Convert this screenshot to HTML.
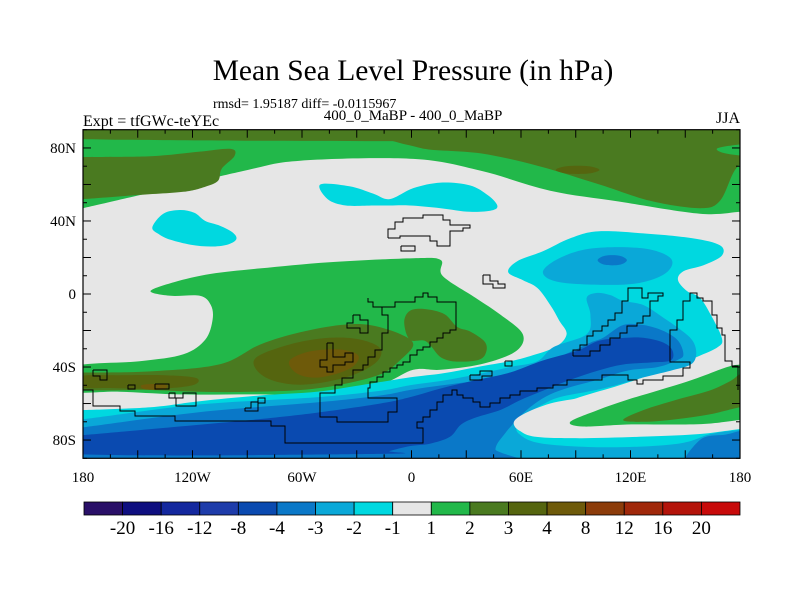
<!DOCTYPE html>
<html><head><meta charset="utf-8"><style>
html,body{margin:0;padding:0;background:#fff;}
svg{display:block;font-family:"Liberation Serif",serif;}
</style></head><body>
<svg id="chart" width="800" height="600" viewBox="0 0 800 600" xmlns="http://www.w3.org/2000/svg">
<defs><clipPath id="plotclip"><rect x="83" y="129.7" width="657" height="328.6"/></clipPath></defs>
<text x="413" y="80" font-size="29.5" text-anchor="middle">Mean Sea Level Pressure (in hPa)</text>
<text x="213" y="108" font-size="14">rmsd= 1.95187 diff= -0.0115967</text>
<text x="413" y="120" font-size="15" text-anchor="middle">400_0_MaBP - 400_0_MaBP</text>
<text x="83" y="126" font-size="16">Expt = tfGWc-teYEc</text>
<text x="740" y="123" font-size="16" text-anchor="end">JJA</text>
<g id="fields" clip-path="url(#plotclip)"></g>
<g id="coast" clip-path="url(#plotclip)" fill="none" stroke="#000" stroke-width="1"></g>
<rect x="83" y="129.7" width="657" height="328.6" fill="none" stroke="#000" stroke-width="1.2"/>
<g id="axes"></g>
<g id="colorbar"></g>
</svg>
<script>
// ---- colour levels ----
const levelLabels = ["-20","-16","-12","-8","-4","-3","-2","-1","1","2","3","4","8","12","16","20"];
const levelColors = ["#2a1068","#0f0f80","#14289e","#1e3caa","#0a4ab0","#0a78c8","#0aa8d8","#00d8e0","#e6e6e6","#22b84a","#4a7a20","#55650f","#6e5a0a","#8c3c0a","#a0280a","#b4140a","#c80a0a"];
// ---- axis ticks ----
const lonTicks = [-180,-120,-60,0,60,120,180];
const lonTickLabels = ["180","120W","60W","0","60E","120E","180"];
const latTicks = [80,40,0,-40,-80];
const latTickLabels = ["80N","40N","0","40S","80S"];
// ---- contour regions (lon,lat) and level index ----
const greenN = [[-186,95],[186,95],[186,45],[180,45],[158,44],[114,50.6],[76,56.6],[38,67.5],[1,74],[-61,73],[-94,67],[-180,47],[-186,47]];
const oliveTop = [[-186,95],[186,95],[186,85],[-186,85]];
const oliveNW = [[-186,75],[-180,75],[-143,75.5],[-116,78],[-99,79.5],[-97,75.6],[-104,68.6],[-106,62],[-113,58.8],[-125,56],[-153,54],[-180,52],[-186,52]];
const oliveNE = [[0,88],[5,80],[38,77],[70,70],[103,60],[131,51],[158,47],[169,51],[177,67.5],[186,78],[186,88]];
const greenNEpatch = [[168,80],[186,82],[186,76],[172,77]];
const darkOliveNE = [[79,68],[85,70],[97,70],[103,68],[97,66],[85,66]];
const cyanA = [[-142,36.5],[-136,44],[-127,46],[-119,44.5],[-113,40],[-105,37.4],[-98,33.7],[-96,30],[-101,27],[-110,26],[-121,27],[-132,29.7],[-138,32.5]];
const cyanB = [[-50,60],[-34,59],[-21,55],[-12,52],[1,58],[16,61],[32,59.5],[42,54],[47,48.5],[44,45.8],[32,45],[16,47],[-1,48.5],[-12,48.5],[-21,48.5],[-36,48.5],[-46,52]];
const greenMid = [[-143,1.6],[-130,6.5],[-110,11],[-83,14],[-45,17.4],[1,19.6],[16,18.6],[17,10],[35,-2],[49,-11.5],[61,-22],[57,-31.5],[38,-38.5],[16,-41.5],[1,-41.5],[-17,-49.7],[-45,-55],[-88,-55],[-127,-55],[-160,-53.5],[-186,-53],[-186,-40],[-149,-36.8],[-125,-33],[-113,-25],[-109,-14],[-110,-6],[-116,-1],[-132,-1]];
const oliveMid = [[-186,-43],[-180,-43],[-143,-42.4],[-105,-38.5],[-83,-27.7],[-61,-21],[-39,-17],[-23,-17],[-6,-22],[1,-27.7],[-6,-36],[-17,-44],[-39,-49.7],[-61,-52.6],[-88,-53.6],[-116,-53.6],[-143,-52.6],[-186,-52]];
const oliveAfrica = [[-4,-15.5],[-1,-9.3],[7,-8.2],[18,-11],[25,-18],[32,-20.5],[40,-26],[41,-31.5],[37,-36],[24,-37],[16,-34.6],[11,-29],[7,-25.5],[-1,-25]];
const darkMid = [[-86,-35.7],[-67,-27.7],[-45,-24],[-28,-25],[-17,-30],[-20,-38],[-36,-45.7],[-61,-49.7],[-80,-45.7]];
const darkSW = [[-181,-45],[-160,-44.5],[-135,-44.5],[-118,-46],[-120,-50],[-140,-52],[-165,-51.5],[-181,-51]];
const brownMid = [[-67,-36.8],[-56,-31.5],[-39,-30.4],[-29,-34],[-34,-41],[-50,-45.7],[-62,-44]];
const brownSW = [[-148,-50],[-141,-49.3],[-134,-50],[-136,-52.2],[-146,-52.2]];
const cyanS = [[-180,-63.6],[-143,-62],[-116,-58.7],[-83,-55.6],[-52,-53.6],[-28,-50],[-1,-45.7],[17,-43.5],[36,-40],[54,-36.8],[65,-34],[79,-29],[85,-22],[81,-14.6],[76,-6],[69,3.3],[61,7.6],[53,12],[58,18],[72,23.4],[87,30.5],[102,34.3],[127,33.2],[154,30.5],[169,26.7],[170,21],[160,15.8],[149,12.5],[146,7.6],[151,1.6],[158,-2],[164,-11.4],[170,-24],[168,-29],[156,-34.6],[136,-42.4],[114,-50],[92,-56.6],[73,-64],[59,-71],[65,-77.7],[92,-79],[131,-78],[158,-76.7],[180,-74],[186,-74],[186,-96],[-186,-96],[-186,-63.6]];
const blue2NE = [[72,12],[81,19.6],[99,25],[127,25],[142,19.6],[140,12],[127,6.5],[109,5],[81,6.5]];
const blue3NE = [[102,18.5],[106,21],[114,21],[118,18.5],[114,16],[106,16]];
const blue2S = [[-180,-68.6],[-116,-60.5],[-52,-56.6],[-17,-53],[-1,-50],[17,-47.5],[36,-44],[54,-40],[69,-36.8],[78,-29],[96,-22],[98,-11.4],[96,-2],[102,0.6],[109,-0.6],[116,-3.8],[127,-6],[138,-13],[146,-18.5],[154,-25.5],[156,-33],[153,-38.6],[142,-42],[127,-45.7],[113,-49.7],[99,-53],[81,-56.6],[72,-60.5],[63,-66],[58,-71],[59,-76.7],[72,-82],[109,-84],[146,-82],[164,-76.7],[180,-74.5],[186,-74.5],[186,-96],[-186,-96],[-186,-68.6]];
const blue3S = [[-186,-73],[-180,-73],[-116,-64.7],[-52,-59.4],[-17,-55.6],[-1,-52.6],[17,-50],[36,-47.5],[54,-44.6],[72,-40],[81,-34.6],[91,-30],[98,-26.6],[105,-24],[116,-17],[127,-17],[138,-20.2],[146,-25.5],[149,-33],[146,-36],[135,-40],[118,-42],[102,-47],[87,-51],[76,-55],[67,-60.5],[59,-67.5],[51,-76.7],[46,-85],[49,-96],[-186,-96]];
const blue3SE = [[150,-96],[158,-80],[172,-77],[186,-76],[186,-96]];
const blue4S = [[-186,-77.3],[-180,-77.3],[-143,-74],[-88,-69],[-52,-65],[-17,-60],[-1,-56.6],[17,-51.5],[36,-47],[54,-43],[72,-36.4],[91,-31],[103,-25.5],[118,-24],[127,-24],[138,-26.6],[143,-31],[142,-36.4],[131,-37.5],[116,-38.6],[102,-42],[87,-47],[72,-53],[59,-58.4],[49,-63.4],[35,-67.7],[27,-71.6],[21,-78.3],[10,-82],[-1,-83.3],[-12,-86],[-17,-87.6],[-186,-87.6]];
const whiteTongue = [[56,-71],[61,-66],[76,-60],[94,-56.6],[108,-53],[127,-47.5],[145,-44],[163,-40],[180,-37.6],[186,-37.6],[186,-73],[180,-73],[158,-75],[114,-77.5],[81,-78],[62,-76]];
const greenS = [[87,-70],[102,-63.6],[118,-58],[136,-52.6],[154,-47],[173,-40],[180,-38.7],[186,-38.7],[186,-69],[180,-69],[163,-71],[145,-71.5],[118,-71.5],[94,-72.6]];
const oliveS = [[116,-69],[127,-63.6],[145,-58],[163,-53],[175,-47.5],[180,-44],[186,-44],[186,-62],[180,-62],[163,-66],[145,-68.6],[127,-70]];

const fieldLayers = [
 ["north-green-band",greenN,9],["north-olive-strip",oliveTop,10],["north-west-olive",oliveNW,10],["north-east-olive",oliveNE,10],
 ["north-east-green-patch",greenNEpatch,9],["north-east-dark-olive",darkOliveNE,11],
 ["north-pacific-low",cyanA,7],["north-atlantic-low",cyanB,7],
 ["tropical-green",greenMid,9],["southern-olive",oliveMid,10],["african-olive",oliveAfrica,10],
 ["southern-dark-olive",darkMid,11],["south-west-dark-olive",darkSW,11],["southern-high",brownMid,12],["south-west-high",brownSW,12],
 ["southern-low-cyan",cyanS,7],["asian-low-2",blue2NE,6],["asian-low-core",blue3NE,5],
 ["southern-low-2",blue2S,6],["southern-low-3",blue3S,5],["south-east-low-3",blue3SE,5],["southern-low-4",blue4S,4],
 ["south-indian-neutral",whiteTongue,8],["south-indian-green",greenS,9],["south-indian-olive",oliveS,10]
];

const X0=83, X1=740, Y0=129.7, Y1=458.3;
function xScale(lon){return X0+(lon+180)*(X1-X0)/360;}
function yScale(lat){return Y0+(90-lat)*(Y1-Y0)/180;}
const NS="http://www.w3.org/2000/svg";
function smoothPath(pts){
  const p=pts.map(d=>[xScale(d[0]),yScale(d[1])]);
  const n=p.length; let s="M"+p[0][0].toFixed(1)+","+p[0][1].toFixed(1);
  for(let i=0;i<n;i++){
    const p0=p[(i-1+n)%n],p1=p[i],p2=p[(i+1)%n],p3=p[(i+2)%n];
    const c1=[p1[0]+(p2[0]-p0[0])/6,p1[1]+(p2[1]-p0[1])/6];
    const c2=[p2[0]-(p3[0]-p1[0])/6,p2[1]-(p3[1]-p1[1])/6];
    s+="C"+c1[0].toFixed(1)+","+c1[1].toFixed(1)+" "+c2[0].toFixed(1)+","+c2[1].toFixed(1)+" "+p2[0].toFixed(1)+","+p2[1].toFixed(1);
  }
  return s+"Z";
}
const fields=document.getElementById("fields");
const bg=document.createElementNS(NS,"rect");
bg.setAttribute("x",X0);bg.setAttribute("y",Y0);bg.setAttribute("width",X1-X0);bg.setAttribute("height",Y1-Y0);bg.setAttribute("fill",levelColors[8]);


fields.appendChild(bg);
fieldLayers.forEach(l=>{
  const el=document.createElementNS(NS,"path");
  el.setAttribute("d",smoothPath(l[1]));
  el.setAttribute("fill",levelColors[l[2]]);
  
  
  fields.appendChild(el);
});

// ---- basemap coastlines (static geography, pixel polylines) ----
const coastLines = [
"83,390 93,390 93,406 120,406 120,411 135,411 135,416 175,416 175,421 271,421 271,426 285,426 285,443 423,443 423,428 417,428 417,422 423,422 423,417 430,417 430,410 437,410 437,402 443,402 443,395 452,395 452,390 457,390 457,395 463,395 463,398 473,398 473,402 480,402 480,407 490,407 490,403 500,403 500,398 510,398 510,395 520,395 520,391 537,391 537,388 553,388 553,385 567,385 567,380 602,380 602,375 628,375 628,380 637,380 637,384 643,384 643,380 663,380 663,376 683,376 683,368 690,368 690,362 670,362 670,330 677,330 677,320 683,320 683,301 690,301 690,293 697,293 697,298 703,298 703,301 712,301 712,315 717,315 717,328 722,328 722,335 725,335 725,361 732,361 732,366 738,366 738,390",
"368,298 368,302 373,302 373,307 395,307 395,302 415,302 415,297 423,297 423,293 428,293 428,297 437,297 437,302 456,302 456,330 450,330 450,333 443,333 443,338 437,338 437,342 430,342 430,347 423,347 423,350 417,350 417,355 410,355 410,362 403,362 403,365 397,365 397,368 390,368 390,372 383,372 383,377 377,377 377,382 370,382 370,388 368,388 368,398 397,398 397,412 388,412 388,422 337,422 337,417 320,417 320,393 335,393 335,385 342,385 342,378 353,378 353,370 363,370 363,365 368,365 368,357 375,357 375,350 382,350 382,333 388,333 388,315 382,315 382,307 373,307",
"327,343 333,343 333,357 345,357 345,353 353,353 353,362 345,362 345,365 333,365 333,372 327,372 327,367 320,367 320,360 327,360 327,343",
"353,315 360,315 360,320 368,320 368,333 360,333 360,328 347,328 347,323 353,323 353,315",
"573,356 573,350 580,350 580,345 587,345 587,336 593,336 593,331 602,331 602,326 608,326 608,320 615,320 615,313 622,313 622,301 628,301 628,288 642,288 642,298 648,298 648,293 663,293 663,296 658,296 658,301 650,301 650,316 643,316 643,323 637,323 637,326 627,326 627,333 620,333 620,338 610,338 610,345 600,345 600,351 590,351 590,356 573,356",
"388,238 388,229 395,229 395,222 403,222 403,218 423,218 423,215 443,215 443,220 450,220 450,225 470,225 470,228 463,228 463,231 450,231 450,246 437,246 437,241 430,241 430,236 400,236 400,238 388,238",
"401,246 415,246 415,251 401,251 401,246",
"483,275 490,275 490,281 498,281 498,284 505,284 505,288 493,288 493,284 483,284 483,275",
"93,370 107,370 107,380 100,380 100,376 93,376 93,370",
"128,385 135,385 135,389 128,389 128,385",
"155,384 169,384 169,389 155,389 155,384",
"169,393 175,393 175,398 183,398 183,393 196,393 196,406 176,406 176,398 169,398 169,393",
"245,408 251,408 251,402 258,402 258,398 265,398 265,403 258,403 258,411 245,411 245,408",
"505,361 512,361 512,366 505,366 505,361",
"470,375 480,375 480,371 492,371 492,376 482,376 482,380 470,380 470,375"
];
const coastNames=["south-polar-coast","west-gondwana-coast","island-cross","island-north","east-peninsula-coast","north-landmass","north-islet","east-islet","west-islet-1","west-islet-2","west-islet-3","west-islet-4","west-islet-5","south-islet-1","south-islet-2"];
const coast=document.getElementById("coast");
coastLines.forEach((c,i)=>{
  const el=document.createElementNS(NS,"polyline");
  el.setAttribute("points",c);
  
  
  coast.appendChild(el);
});

// ---- axes ----
const axes=document.getElementById("axes");
function line(x1,y1,x2,y2,name){
  const el=document.createElementNS(NS,"line");
  el.setAttribute("x1",x1);el.setAttribute("y1",y1);el.setAttribute("x2",x2);el.setAttribute("y2",y2);
  el.setAttribute("stroke","#000");el.setAttribute("stroke-width","1");
  
  
  axes.appendChild(el);
}
function text(x,y,s,anchor,size,name){
  const el=document.createElementNS(NS,"text");
  el.setAttribute("x",x);el.setAttribute("y",y);el.setAttribute("text-anchor",anchor);el.setAttribute("font-size",size);
  el.textContent=s;
  
  
  axes.appendChild(el);
}
for(let lon=-180;lon<=180;lon+=15){
  const len = lon%30===0?8:4; const x=xScale(lon);
  line(x,Y1,x,Y1-len,"x-tick");
  line(x,Y0,x,Y0+len,"x-tick-top");
}
for(let lat=-90;lat<=90;lat+=10){
  const len = lat%20===0?8:4; const y=yScale(lat);
  line(X0,y,X0+len,y,"y-tick");
  line(X1,y,X1-len,y,"y-tick-right");
}
lonTicks.forEach((v,i)=>text(xScale(v),482,lonTickLabels[i],"middle",15,"x-tick-label"));
latTicks.forEach((v,i)=>text(76,yScale(v)+5,latTickLabels[i],"end",15,"y-tick-label"));

// ---- colorbar ----
const cb=document.getElementById("colorbar");
const cbX0=84, cbX1=740, cbY=502, cbH=13, bw=(cbX1-cbX0)/levelColors.length;
levelColors.forEach((c,i)=>{
  const el=document.createElementNS(NS,"rect");
  el.setAttribute("x",cbX0+i*bw);el.setAttribute("y",cbY);el.setAttribute("width",bw);el.setAttribute("height",cbH);
  el.setAttribute("fill",c);el.setAttribute("stroke","#000");el.setAttribute("stroke-width","0.8");
  
  
  cb.appendChild(el);
});
levelLabels.forEach((s,i)=>{
  const el=document.createElementNS(NS,"text");
  el.setAttribute("x",cbX0+(i+1)*bw);el.setAttribute("y",534);el.setAttribute("text-anchor","middle");el.setAttribute("font-size",19);
  el.textContent=s;
  
  
  cb.appendChild(el);
});
</script>
</body></html>
